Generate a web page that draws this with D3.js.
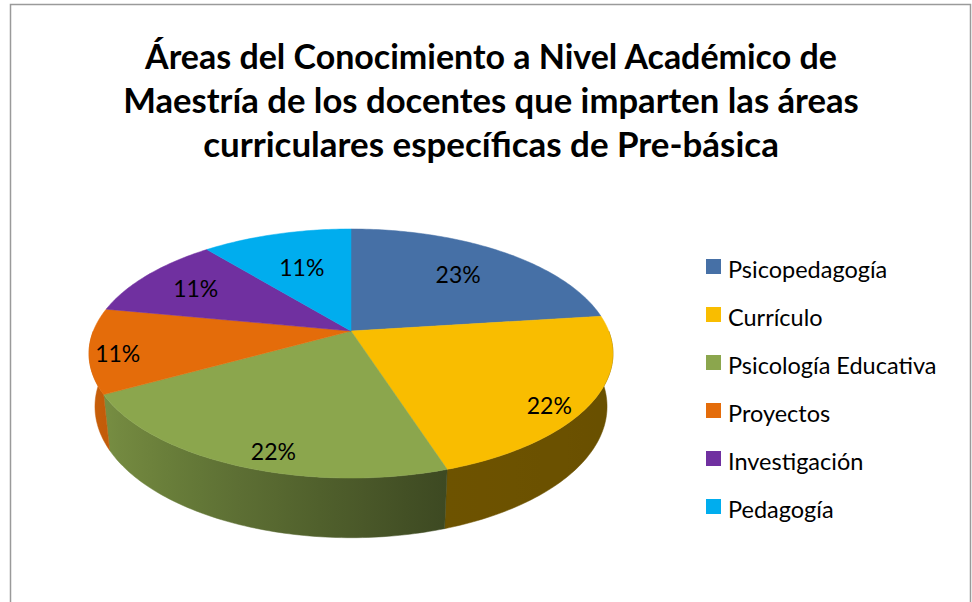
<!DOCTYPE html>
<html>
<head>
<meta charset="utf-8">
<script src="https://cdnjs.cloudflare.com/ajax/libs/d3/7.8.5/d3.min.js"></script>
<style>
  body { margin: 0; background: #fff; }
  svg { display: block; font-family: Lato, 'Open Sans', sans-serif; }
  .chart-title { font-weight: bold; fill: #000; }
  .legend-label, .pct-label { fill: #000; }
</style>
</head>
<body>
<div id="chart-area"></div>
<script>
// Chart data
var titleLines = [
  'Áreas del Conocimiento a Nivel Académico de',
  'Maestría de los docentes que imparten las áreas',
  'curriculares específicas de Pre-básica'
];
var categories = ['Psicopedagogía', 'Currículo', 'Psicología Educativa', 'Proyectos', 'Investigación', 'Pedagogía'];
var percentages = [23, 22, 22, 11, 11, 11];
var colors = ['#4670a6', '#f9bd00', '#8ba64d', '#e46c0a', '#7030a0', '#00adee'];

/**
 * Pie3D
 * @param _parentElement -- the HTML element in which to draw the visualization
 */
Pie3D = function(_parentElement) {
  this.parentElement = _parentElement;
  this.displayData = [];

  this.initVisualization();
}

Pie3D.prototype.initVisualization = function() {
  var vis = this;

  vis.width = 972;
  vis.height = 602;

  vis.svg = d3.select('#' + vis.parentElement)
              .append('svg')
              .attr('width', vis.width)
              .attr('height', vis.height);

  // Frame
  vis.svg.append('rect')
         .attr('x', 10.5)
         .attr('y', 4.5)
         .attr('width', 960)
         .attr('height', 640)
         .attr('fill', 'none')
         .attr('stroke', '#9a9a9a')
         .attr('stroke-width', 1.5);

  vis.defs = vis.svg.append('defs');

  // Perspective camera for the tilted disc
  vis.cx = 351;
  vis.cy = 331;
  vis.dist = 4.89;
  vis.focal = 1260;
  vis.tilt = Math.asin(0.4675);
  vis.thick = 0.235;

  vis.project = function(theta, r, y) {
    var X = r * Math.sin(theta),
        Z = r * Math.cos(theta);
    var w = vis.dist + Z * Math.cos(vis.tilt) - y * Math.sin(vis.tilt);
    var v = Z * Math.sin(vis.tilt) + y * Math.cos(vis.tilt);
    return [vis.cx + vis.focal * X / w, vis.cy - vis.focal * v / w];
  };

  vis.line = d3.line();

  // Shade of the rim: lit from the left
  vis.shade = d3.scaleLinear()
                .domain([-1, -0.34, 0.3, 1])
                .range([0.9, 0.66, 0.44, 0.42])
                .clamp(true);

  vis.pie = d3.pie()
              .sort(null)
              .value(function(d) { return d.value; });

  vis.wrangleData();
}

Pie3D.prototype.wrangleData = function() {
  var vis = this;

  vis.displayData = categories.map(function(c, i) {
    return { name: c, value: percentages[i], color: colors[i] };
  });

  vis.updateVisualization();
}

Pie3D.prototype.arcPoints = function(a0, a1, r, y) {
  var vis = this;
  var n = Math.max(2, Math.ceil(Math.abs(a1 - a0) / (Math.PI / 180)));
  var pts = [];
  for (var i = 0; i <= n; i++) {
    pts.push(vis.project(a0 + (a1 - a0) * i / n, r, y));
  }
  return pts;
}

Pie3D.prototype.updateVisualization = function() {
  var vis = this;
  var arcs = vis.pie(vis.displayData);

  // Rim (front half only)
  var front0 = Math.PI / 2, front1 = Math.PI * 3 / 2;
  arcs.forEach(function(d, i) {
    var a0 = Math.max(d.startAngle, front0),
        a1 = Math.min(d.endAngle, front1);
    if (a1 <= a0) return;

    var top = vis.arcPoints(a0, a1, 1, 0);
    var bottom = vis.arcPoints(a0, a1, 1, -vis.thick).reverse();

    // gradient along screen x following the light
    var xs = top.map(function(p) { return p[0]; });
    var xMin = d3.min(xs), xMax = d3.max(xs);
    var grad = vis.defs.append('linearGradient')
                       .attr('id', 'rim-' + i)
                       .attr('gradientUnits', 'userSpaceOnUse')
                       .attr('x1', xMin).attr('x2', xMax)
                       .attr('y1', 0).attr('y2', 0);
    var stops = d3.range(0, 11).map(function(k) {
      var t = a0 + (a1 - a0) * k / 10;
      return { x: vis.project(t, 1, 0)[0], k: vis.shade(Math.sin(t)) };
    }).sort(function(a, b) { return a.x - b.x; });
    stops.forEach(function(s) {
      var c = d3.rgb(d.data.color);
      grad.append('stop')
          .attr('offset', xMax > xMin ? (s.x - xMin) / (xMax - xMin) : 0)
          .attr('stop-color', d3.rgb(c.r * s.k, c.g * s.k, c.b * s.k).toString());
    });

    vis.svg.append('path')
           .attr('class', 'rim')
           .attr('d', vis.line(top.concat(bottom)) + 'Z')
           .attr('fill', 'url(#rim-' + i + ')')
           .attr('stroke', 'url(#rim-' + i + ')')
           .attr('stroke-width', 0.5);
  });

  // Top faces
  vis.svg.selectAll('.slice')
         .data(arcs)
         .enter()
         .append('path')
         .attr('class', 'slice')
         .attr('d', function(d) {
           var pts = [vis.project(0, 0, 0)].concat(vis.arcPoints(d.startAngle, d.endAngle, 1, 0));
           return vis.line(pts) + 'Z';
         })
         .attr('fill', function(d) { return d.data.color; })
         .attr('stroke', function(d) { return d.data.color; })
         .attr('stroke-width', 0.5);

  // Percentage labels (pushed outward on the wide sides, like the best-fit placement)
  vis.svg.selectAll('.pct-label')
         .data(arcs)
         .enter()
         .append('text')
         .attr('class', 'pct-label')
         .attr('text-anchor', 'middle')
         .attr('dominant-baseline', 'central')
         .style('font-size', '23px')
         .attr('transform', function(d) {
           var mid = (d.startAngle + d.endAngle) / 2;
           var s = Math.sin(mid), c = Math.cos(mid);
           var r = 0.6 + 0.2 * s * s + (c < 0 ? 0.1 : 0);
           var p = vis.project(mid, r, -vis.thick * 0.5 * Math.max(0, -c));
           return 'translate(' + p[0] + ',' + p[1] + ')';
         })
         .text(function(d) { return d.data.value + '%'; });

  // Title
  var titleWidths = [692, 736, 576];
  vis.svg.selectAll('.chart-title')
         .data(titleLines)
         .enter()
         .append('text')
         .attr('class', 'chart-title')
         .attr('x', 491)
         .attr('y', function(d, i) { return 69 + i * 44; })
         .attr('text-anchor', 'middle')
         .style('font-size', '30px')
         .text(function(d) { return d; })
         .each(function(d, i) {
           var len = this.getComputedTextLength();
           d3.select(this).style('font-size', (30 * titleWidths[i] / len) + 'px');
         });

  // Legend
  var legend = vis.svg.selectAll('.legend-item')
                      .data(vis.displayData)
                      .enter()
                      .append('g')
                      .attr('class', 'legend-item')
                      .attr('transform', function(d, i) {
                        return 'translate(706,' + (259 + i * 48) + ')';
                      });

  legend.append('rect')
        .attr('width', 15)
        .attr('height', 15)
        .attr('fill', function(d) { return d.color; });

  legend.append('text')
        .attr('class', 'legend-label')
        .attr('x', 22)
        .attr('y', 19)
        .style('font-size', '23.5px')
        .text(function(d) { return d.name; });
}

new Pie3D('chart-area');
</script>
</body>
</html>
